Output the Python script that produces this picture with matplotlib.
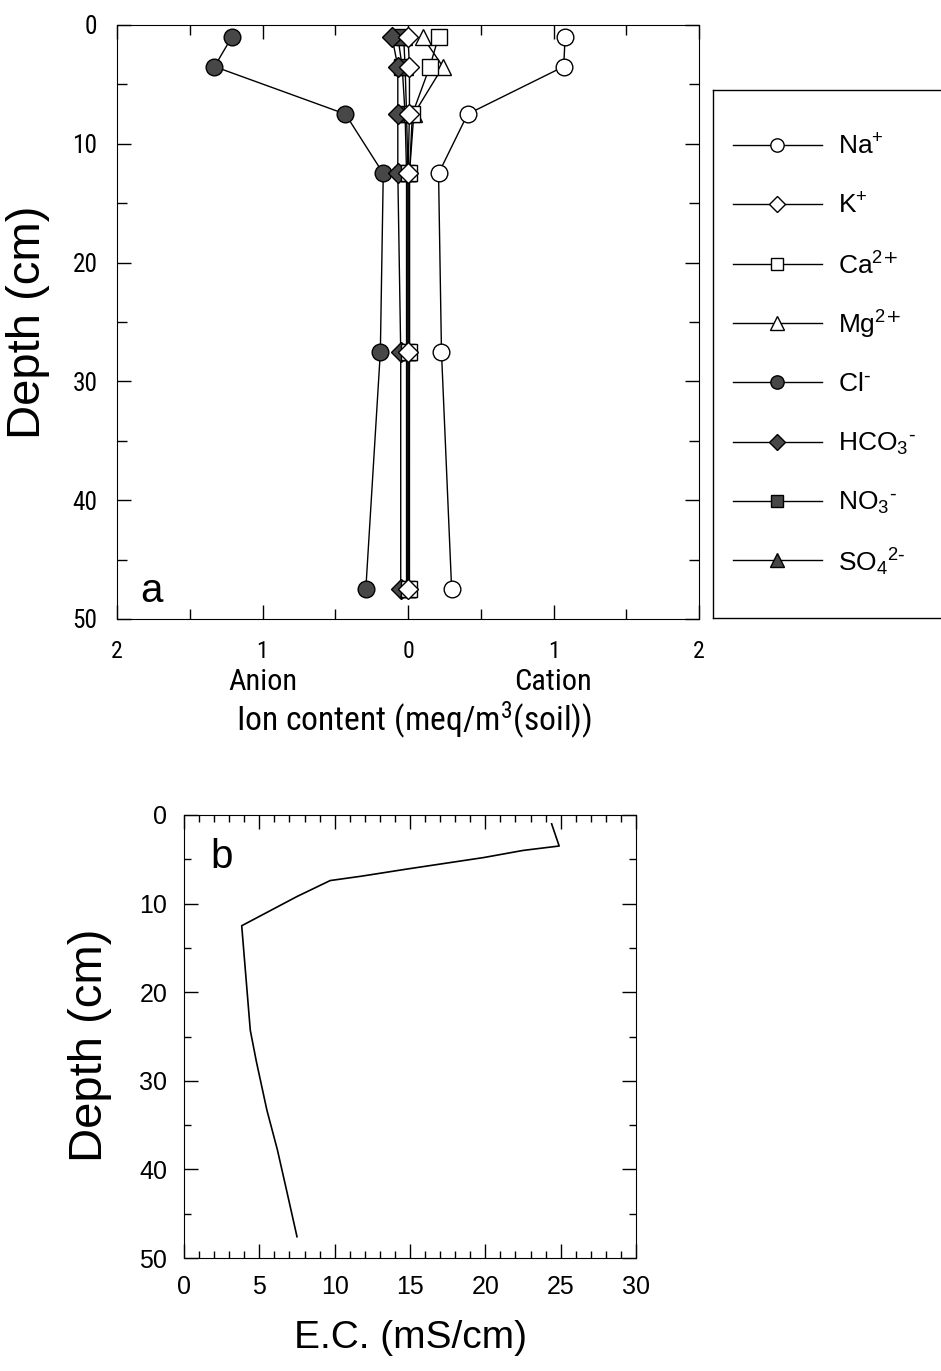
import matplotlib
matplotlib.use('Agg')
import matplotlib.pyplot as plt
from matplotlib import font_manager as fm
from matplotlib.ticker import MultipleLocator, FuncFormatter

plt.rcParams['font.family'] = ['Liberation Sans', 'DejaVu Sans']
plt.rcParams['mathtext.default'] = 'regular'

# depth of the sampled layers (cm)
depth = [1, 3.5, 7.5, 12.5, 27.5, 47.5]

# ion content, anions negative (meq/m3 soil)
na = [1.08, 1.07, 0.41, 0.21, 0.23, 0.30]
k = [0.0, 0.01, 0.01, 0.0, 0.0, 0.0]
ca = [0.21, 0.15, 0.03, 0.01, 0.01, 0.01]
mg = [0.10, 0.24, 0.04, 0.01, 0.01, 0.0]
cl = [-1.21, -1.33, -0.43, -0.17, -0.19, -0.29]
hco3 = [-0.11, -0.07, -0.07, -0.07, -0.05, -0.05]
no3 = [-0.07, -0.04, -0.02, -0.01, -0.01, -0.01]
so4 = [-0.03, -0.02, -0.01, 0.0, 0.0, 0.0]

ion_labels = ['Na$^{+}$', 'K$^{+}$', 'Ca$^{2\\text{+}}$', 'Mg$^{2\\text{+}}$',
              'Cl$^{\\text{-}}$', 'HCO$_3$$^{\\text{-}}$', 'NO$_3$$^{\\text{-}}$',
              'SO$_4$$^{2\\text{-}}$']

# electrical conductivity profile
ec_depth = [1, 3.5, 4.0, 4.8, 6.1, 6.9, 7.4, 9.2, 12.5, 24.3, 27.8, 33.3, 37.8, 42.3, 47.6]
ec = [24.4, 24.9, 22.5, 19.9, 14.8, 11.8, 9.7, 7.5, 3.83, 4.4, 4.8, 5.5, 6.2, 6.8, 7.5]

series = [na, k, ca, mg, cl, hco3, no3, so4]
markers = ['o', 'D', 's', '^', 'o', 'D', 's', '^']
filled = [False, False, False, False, True, True, True, True]
sizes = [12, 10, 11, 12, 12, 10, 11, 12]
dark = '#474747'

# the top panel uses a narrow face; pick one if it is installed
fonts = fm.fontManager.ttflist
names = {f.name for f in fonts}
narrow = None
for nm in ['Liberation Sans Narrow', 'Arial Narrow', 'Roboto Condensed',
           'Open Sans Condensed', 'Noto Sans Condensed']:
    if nm in names:
        narrow = dict(family=nm)
        break
if narrow is None:
    for nm in ['Liberation Sans', 'Noto Sans', 'Roboto', 'Open Sans', 'DejaVu Sans']:
        if any(f.name == nm and f.stretch in ('condensed', 'semi-condensed') for f in fonts):
            narrow = dict(family=nm, stretch='condensed')
            break
if narrow is None:
    narrow = dict(family='Liberation Sans')
    nf = 1.0
else:
    nf = 1.18

W, H = 941, 1371
fig = plt.figure(figsize=(W / 100, H / 100), dpi=100)

def box(x0, y0, x1, y1):
    return [x0 / W, 1 - y1 / H, (x1 - x0) / W, (y1 - y0) / H]

# ---- panel a
ax = fig.add_axes(box(117, 25, 699, 619))
order = [4, 7, 6, 5, 3, 2, 1, 0]
for i in order:
    fc = dark if filled[i] else 'white'
    ax.plot(series[i], depth, color='black', lw=1.0, marker=markers[i],
            ms=sizes[i], mfc=fc, mec='black', mew=1.0, zorder=3 + (0 if filled[i] else 1))
ax.set_xlim(-2, 2)
ax.set_ylim(50, 0)
ax.xaxis.set_major_locator(MultipleLocator(1))
ax.xaxis.set_minor_locator(MultipleLocator(0.5))
ax.yaxis.set_major_locator(MultipleLocator(10))
ax.yaxis.set_minor_locator(MultipleLocator(5))
ax.xaxis.set_major_formatter(FuncFormatter(lambda v, p: '%d' % abs(round(v))))
ax.tick_params(which='both', direction='in', top=True, right=True, width=1.0)
ax.tick_params(which='major', length=10)
ax.tick_params(which='minor', length=7)
ax.tick_params(axis='x', pad=15)
ax.tick_params(axis='y', pad=14)
for lab in ax.get_xticklabels():
    lab.set(**narrow)
    lab.set_fontsize(14.5 * nf)
for lab in ax.get_yticklabels():
    lab.set(**narrow)
    lab.set_fontsize(15.5 * nf)
ax.set_ylabel('Depth (cm)', fontsize=34)
ax.yaxis.set_label_coords(-0.115, 0.5)
ax.text(0.04, 0.028, 'a', transform=ax.transAxes, fontsize=29, va='baseline', ha='left')
ax.text(-1, -0.106, 'Anion', transform=ax.get_xaxis_transform(), ha='center', va='center',
        fontsize=18.5 * nf, **narrow)
ax.text(1, -0.106, 'Cation', transform=ax.get_xaxis_transform(), ha='center', va='center',
        fontsize=18.5 * nf, **narrow)
fig.text(414 / W, 1 - 720 / H, 'Ion content (meq/m$^3$(soil))', ha='center', va='center',
         fontsize=20.5 * nf, **narrow)

# ---- legend box (runs off the right edge like the original)
lax = fig.add_axes(box(713, 90, 990, 618))
lax.set_xlim(0, 277)
lax.set_ylim(528, 0)
lax.set_xticks([])
lax.set_yticks([])
for s in lax.spines.values():
    s.set_linewidth(1.0)
for j, lab in enumerate(ion_labels):
    yy = 55 + j * 59.3
    fc = dark if filled[j] else 'white'
    lax.plot([20, 109], [yy, yy], color='black', lw=1.0)
    lax.plot([64], [yy], marker=markers[j], ms=sizes[j] * 0.8, mfc=fc, mec='black', mew=1.0)
    lax.text(125, yy + 2, lab, fontsize=19, va='center', ha='left')

# ---- panel b
bx = fig.add_axes(box(184, 815, 636, 1258))
bx.plot(ec, ec_depth, color='black', lw=1.2)
bx.set_xlim(0, 30)
bx.set_ylim(50, 0)
bx.xaxis.set_major_locator(MultipleLocator(5))
bx.xaxis.set_minor_locator(MultipleLocator(1))
bx.yaxis.set_major_locator(MultipleLocator(10))
bx.yaxis.set_minor_locator(MultipleLocator(5))
bx.tick_params(which='both', direction='in', top=True, right=True, width=1.0, labelsize=18)
bx.tick_params(which='major', length=10)
bx.tick_params(which='minor', length=5)
bx.tick_params(axis='x', pad=12)
bx.tick_params(axis='y', pad=12)
bx.set_xlabel('E.C. (mS/cm)', fontsize=28)
bx.xaxis.set_label_coords(0.5, -0.14)
bx.set_ylabel('Depth (cm)', fontsize=34)
bx.yaxis.set_label_coords(-0.16, 0.48)
bx.text(0.058, 0.948, 'b', transform=bx.transAxes, fontsize=29, va='top', ha='left')

fig.savefig('out.png', dpi=100)
